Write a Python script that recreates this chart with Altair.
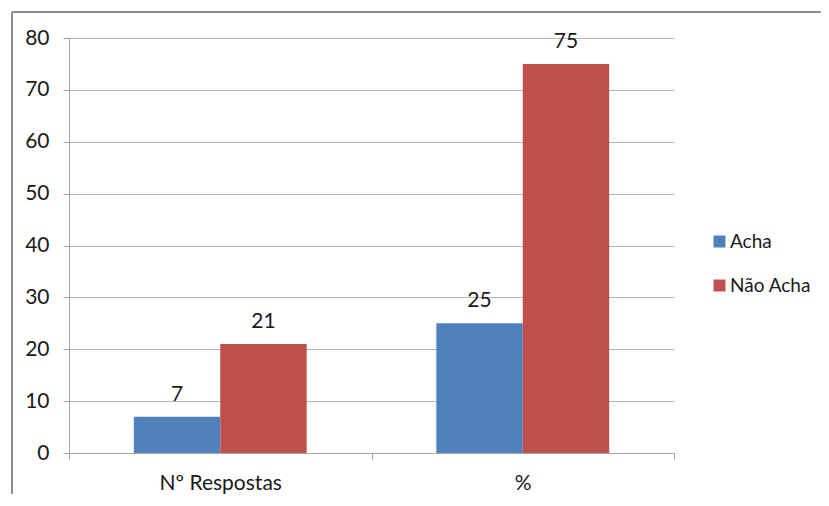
import altair as alt
import pandas as pd

categories = ["Nº Respostas", "%"]
series = ["Acha", "Não Acha"]
acha = [7, 25]
nao_acha = [21, 75]
colors = ["#4F81BD", "#C0504D"]

rows = []
for i, c in enumerate(categories):
    rows.append({"cat": c, "serie": series[0], "val": acha[i]})
    rows.append({"cat": c, "serie": series[1], "val": nao_acha[i]})
df = pd.DataFrame(rows)

FONT = "Lato"
FS = 21
TXT = "#1a1a1a"

x = alt.X("cat:N", sort=categories, title=None,
          scale=alt.Scale(paddingInner=0, paddingOuter=0),
          axis=alt.Axis(labelAngle=0, tickBand="extent", domainColor="#a6a6a6",
                        tickColor="#a6a6a6", tickSize=6, labelPadding=13,
                        labelFontSize=FS, labelFont=FONT, labelColor=TXT))
xo = alt.XOffset("serie:N", sort=series,
                 scale=alt.Scale(paddingInner=0, paddingOuter=0.75))
y = alt.Y("val:Q", title=None,
          scale=alt.Scale(domain=[0, 80]),
          axis=alt.Axis(values=[0, 10, 20, 30, 40, 50, 60, 70, 80], tickSize=6,
                        tickColor="#a6a6a6", domainColor="#a6a6a6",
                        gridColor="#b8b8b8", labelPadding=14,
                        labelFontSize=FS, labelFont=FONT, labelColor=TXT))

bars = alt.Chart(df).mark_bar().encode(
    x=x, xOffset=xo, y=y,
    color=alt.Color("serie:N", sort=series, title=None,
                    scale=alt.Scale(domain=series, range=colors),
                    legend=alt.Legend(orient="none", legendX=641, legendY=194,
                                      symbolType="square", symbolSize=144,
                                      symbolStrokeWidth=0, labelFontSize=19,
                                      labelFont=FONT, labelColor=TXT,
                                      rowPadding=24, labelOffset=1)),
)

text = alt.Chart(df).mark_text(baseline="middle", dy=-22, fontSize=FS,
                               font=FONT, color=TXT).encode(
    x=x, xOffset=xo, y=y, text="val:Q"
)

border_top = alt.Chart(df).mark_rule(color="#8c8c8c", strokeWidth=1.5).encode(
    x=alt.value(-57), x2=alt.value(770), y=alt.value(-26)
)
border_left = alt.Chart(df).mark_rule(color="#8c8c8c", strokeWidth=1.5).encode(
    x=alt.value(-57), y=alt.value(-26), y2=alt.value(456)
)

chart = alt.layer(bars, text, border_top, border_left).properties(
    width=605, height=415,
    autosize=alt.AutoSizeParams(type="none"),
    padding={"left": 61, "top": 30, "right": 147, "bottom": 41},
).configure_view(stroke=None)

chart.save("out.html", embed_options={"renderer": "svg", "actions": False})
